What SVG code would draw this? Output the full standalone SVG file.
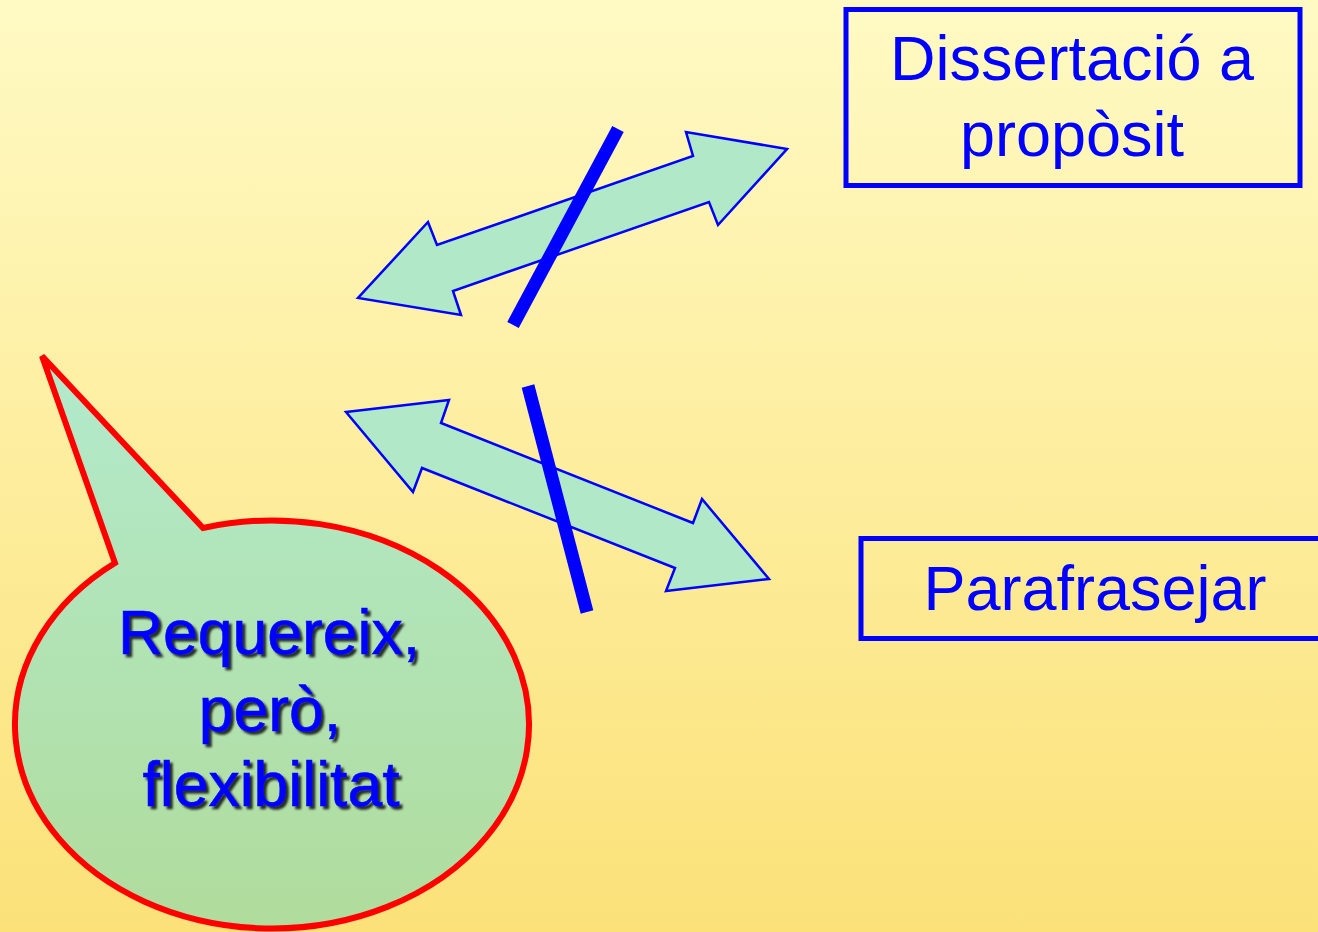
<svg xmlns="http://www.w3.org/2000/svg" width="1318" height="932" viewBox="0 0 1318 932">
<defs>
<linearGradient id="bg" x1="0" y1="0" x2="0" y2="1">
<stop offset="0" stop-color="#fffac4"/>
<stop offset="1" stop-color="#fbe178"/>
</linearGradient>
<linearGradient id="green" x1="0" y1="0" x2="0" y2="1">
<stop offset="0" stop-color="#b2eacc"/>
<stop offset="1" stop-color="#b0dc9c"/>
</linearGradient>
<filter id="shadow" x="-10%" y="-10%" width="120%" height="130%">
<feGaussianBlur in="SourceAlpha" stdDeviation="0.8"/>
<feOffset dx="3" dy="3" result="o"/>
<feFlood flood-color="#000" flood-opacity="0.8"/>
<feComposite in2="o" operator="in"/>
<feMerge><feMergeNode/><feMergeNode in="SourceGraphic"/></feMerge>
</filter>
</defs>
<style>
.box{fill:none;stroke:#0000ff;stroke-width:5}
.lbl{font-family:"Liberation Sans",Arial,sans-serif;font-size:63px;fill:#0000ff;text-anchor:middle}
.arrow{fill:#b1e8c8;stroke:#0000ff;stroke-width:2.5;stroke-linejoin:miter}
.bar{stroke:#0000ff;stroke-width:13;stroke-linecap:butt}
.call{font-family:"Liberation Sans",Arial,sans-serif;font-size:62.5px;fill:#0000ff;text-anchor:middle;stroke:#0000ff;stroke-width:0.6;font-variant-ligatures:none}
</style>
<rect x="0" y="0" width="1318" height="932" fill="url(#bg)"/>
<g id="connectors">
<polygon class="arrow" points="787,149 686,132 693,156 437,245 428,222 358,298 461,315 453,291 709,202 718,225"/>
<line class="bar" x1="618" y1="129" x2="513" y2="325"/>
<polygon class="arrow" points="346,412 449,400 441,423 693,523 702,499 769,579 666,591 675,568 422,468 413,492"/>
<line class="bar" x1="528" y1="386" x2="587" y2="612"/>
</g>
<g id="node-dissertacio">
<rect class="box" x="846" y="9.5" width="454" height="176"/>
<text class="lbl" x="1072" y="80">Dissertació a</text>
<text class="lbl" x="1072" y="156">propòsit</text>
</g>
<g id="node-parafrasejar">
<rect class="box" x="861" y="538.5" width="470" height="100"/>
<text class="lbl" x="1095" y="610">Parafrasejar</text>
</g>
<g id="node-callout">
<path d="M42,356 L203,528 A257,204 0 1 1 115,563 Z" fill="url(#green)" stroke="#ff0000" stroke-width="6" stroke-linejoin="miter"/>
<g filter="url(#shadow)">
<text class="call" x="269" y="654">Requereix,</text>
<text class="call" x="270" y="731">però,</text>
<text class="call" x="271" y="806">flexibilitat</text>
</g>
</g>
</svg>
